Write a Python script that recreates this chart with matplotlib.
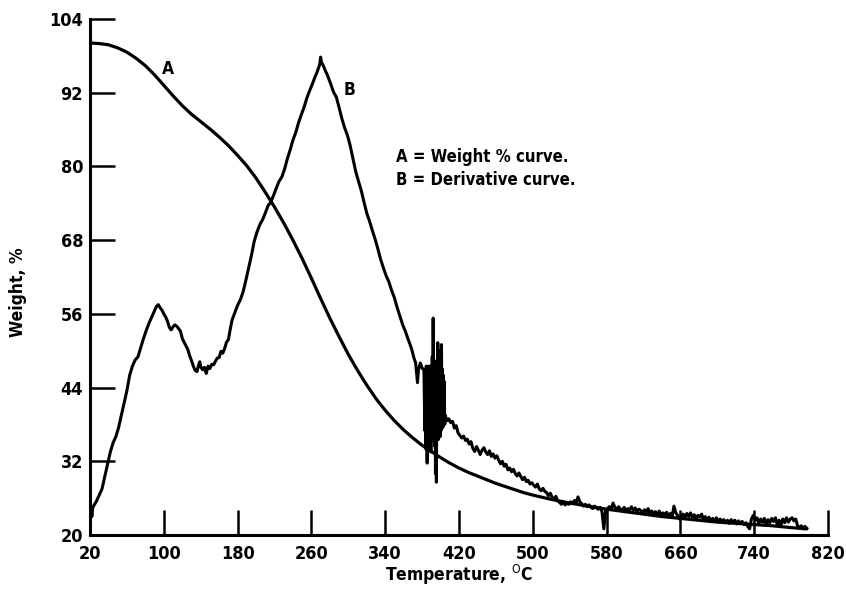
import matplotlib
matplotlib.use("Agg")
import matplotlib.pyplot as plt

plt.rcParams['font.family'] = ['DejaVu Sans']
plt.rcParams['font.stretch'] = 'condensed'

# curve A: weight % vs temperature
temp_a = [20, 30, 40, 50, 60, 70, 80, 90, 100, 110, 120, 130, 140, 150, 160, 170,
          180, 190, 200, 210, 220, 230, 240, 250, 260, 270, 280, 290, 300, 310,
          320, 330, 340, 350, 360, 370, 380, 390, 400, 410, 420, 430, 440, 450,
          460, 470, 480, 490, 500, 520, 540, 560, 580, 600, 620, 640, 660, 680,
          700, 720, 740, 760, 780, 797]
weight_a = [100.1, 100.0, 99.8, 99.3, 98.6, 97.6, 96.4, 94.9, 93.2, 91.5, 89.9, 88.5,
            87.3, 86.1, 84.8, 83.4, 81.8, 80.1, 78.1, 75.8, 73.4, 70.8, 68.0, 65.0,
            61.8, 58.5, 55.3, 52.3, 49.4, 46.8, 44.4, 42.2, 40.3, 38.6, 37.1, 35.8,
            34.6, 33.6, 32.6, 31.7, 30.9, 30.2, 29.6, 29.0, 28.4, 27.9, 27.4, 26.9,
            26.5, 25.8, 25.2, 24.7, 24.2, 23.8, 23.4, 23.0, 22.7, 22.4, 22.1, 21.9,
            21.7, 21.5, 21.2, 21.0]

# curve B: derivative curve
temp_b = [20, 21, 22, 23, 25, 27, 30, 33, 36, 39, 42, 45, 48, 51, 54, 57, 60, 63, 66,
          69, 72, 75, 78, 81, 84, 87, 90, 92, 94, 96, 98, 100, 102, 104, 106, 108,
          110, 112, 114, 116, 118, 120, 122, 124, 126, 128, 130, 132, 134, 136, 138,
          139, 140, 142, 144, 146, 148, 150, 152, 154, 156, 158, 160, 162, 164, 166,
          168, 170, 172, 174, 176, 178, 180, 183, 186, 189, 192, 195, 198, 201, 204,
          207, 210, 213, 216, 219, 222, 225, 228, 231, 234, 237, 240, 243, 246, 249,
          252, 255, 258, 261, 264, 266, 268, 269, 270, 271, 273, 275, 277, 279, 281,
          284, 287, 290, 293, 296, 299, 302, 305, 308, 311, 314, 317, 320, 323, 326,
          329, 332, 335, 338, 341, 344, 347, 350, 353, 356, 359, 362, 365, 367, 369,
          371, 373, 375, 376, 378, 380, 382,
          383, 383.5, 384, 384.5, 385, 385.5, 386, 386.5, 387, 387.5, 388, 388.5,
          389, 389.5, 390, 390.5, 391, 391.5, 392, 392.5, 393, 393.5, 394, 394.5,
          395, 395.5, 396, 396.5, 397, 397.5, 398, 398.5, 399, 399.5, 400, 400.5,
          401, 401.5, 402, 402.5, 403, 403.5, 404, 404.5, 405,
          407, 409, 411, 413, 415, 417, 419, 421, 423, 425, 427, 429, 431, 433, 435,
          437, 439, 441, 443, 445, 447, 449, 451, 453, 455, 457, 459, 461, 463, 465,
          467, 469, 471, 473, 475, 477, 479, 481, 483, 485, 487, 489, 491, 493, 495,
          497, 499, 501, 503, 505, 507, 509, 511, 513, 515, 517, 519, 521, 523, 525,
          527, 529, 531, 533, 535, 537, 539, 541, 543, 545, 547, 549, 551, 553, 555,
          557, 559, 561, 563, 565, 567, 569, 571, 573, 575, 577, 578, 579, 581, 583,
          585, 587, 589, 591, 593, 595, 597, 599, 601, 603, 605, 607, 609, 611, 613,
          615, 617, 619, 621, 623, 625, 627, 629, 631, 633, 635, 637, 639, 641, 643,
          645, 647, 649, 651, 653, 655, 657, 659, 661, 663, 665, 667, 669, 671, 673,
          675, 677, 679, 681, 683, 685, 687, 689, 691, 693, 695, 697, 699, 701, 703,
          705, 707, 709, 711, 713, 715, 717, 719, 721, 723, 725, 727, 729, 731, 733,
          735, 737, 739, 741, 743, 745, 747, 749, 751, 753, 755, 757, 759, 761, 763,
          765, 767, 769, 771, 773, 775, 777, 779, 781, 783, 785, 787, 789, 791, 793,
          795, 797]
deriv_b = [22.0, 24.5, 23.0, 24.5, 25.0, 25.5, 26.5, 27.5, 29.5, 31.5, 33.5, 35.0, 36.0,
           37.5, 39.5, 41.5, 43.5, 46.0, 47.5, 48.5, 49.0, 50.5, 52.0, 53.3, 54.5,
           55.5, 56.5, 57.2, 57.5, 57.0, 56.6, 56.0, 55.5, 54.8, 53.8, 53.4, 53.9,
           54.2, 54.0, 53.6, 53.2, 52.0, 51.4, 50.8, 50.2, 49.2, 48.4, 47.5, 46.8,
           46.6, 47.8, 48.2, 47.4, 46.9, 47.3, 46.3, 47.5, 47.1, 47.8, 47.7, 48.3,
           48.8, 48.9, 49.9, 49.6, 50.4, 51.4, 51.8, 53.5, 55.0, 55.8, 56.6, 57.4,
           58.3, 59.6, 61.5, 63.5, 65.5, 67.8, 69.3, 70.5, 71.3, 72.4, 73.6, 74.2,
           75.3, 76.5, 77.6, 78.3, 79.6, 81.3, 82.7, 84.3, 85.5, 87.1, 88.4, 89.6,
           91.1, 92.3, 93.4, 94.6, 95.3, 96.2, 96.6, 97.8, 96.9, 96.4, 95.6, 95.0,
           94.2, 93.4, 92.1, 91.3, 89.6, 87.8, 86.3, 85.1, 83.4, 81.3, 79.2, 77.6,
           76.1, 74.2, 72.4, 71.1, 69.6, 68.2, 66.6, 64.9, 63.5, 62.2, 61.2, 59.8,
           58.6, 57.0, 55.6, 54.2, 53.1, 51.8, 51.0, 50.1, 48.9, 48.0, 44.8, 46.8,
           48.0, 47.2, 46.8,
           37.0, 46.0, 34.0, 47.5, 40.0, 31.7, 46.5, 36.5, 47.5, 35.0, 46.0, 37.5,
           47.5, 33.5, 46.5, 36.5, 49.0, 35.5, 55.3, 38.0, 48.5, 34.5, 47.0, 30.0,
           45.0, 28.6, 48.0, 36.5, 51.3, 35.5, 47.5, 37.5, 50.0, 36.0, 47.0, 37.0,
           51.0, 39.0, 47.0, 37.5, 46.0, 39.0, 45.0, 38.0, 39.5,
           38.6, 38.9, 38.3, 38.5, 37.4, 37.8, 36.6, 36.2, 35.8, 36.1, 35.4, 35.6,
           34.8, 35.2, 34.1, 33.6, 34.4, 33.8, 33.1, 33.8, 34.2, 33.5, 33.1, 33.7,
           32.8, 33.2, 32.5, 32.9, 32.2, 31.6, 32.0, 31.2, 31.5, 30.6, 30.9, 30.3,
           30.7, 30.0, 29.6, 30.1, 29.5, 29.0, 29.4, 28.7, 28.9, 28.3, 28.5, 28.1,
           27.8, 28.3, 27.5, 27.2, 27.6, 27.1, 26.9, 26.4, 26.8, 26.1, 25.9, 26.3,
           25.6, 25.3, 25.0, 25.4, 24.9, 25.2, 25.0, 25.4, 25.1, 25.6, 25.3, 26.2,
           25.4, 25.1, 24.7, 25.0, 24.6, 24.9, 24.5, 24.3, 24.7, 24.4, 24.2, 24.5,
           23.8, 21.0, 22.5, 24.0, 24.3, 24.6, 24.2, 25.2, 24.5, 24.1, 24.6, 24.2,
           24.0, 24.5, 23.9, 24.3, 24.1, 24.6, 24.0, 24.4, 23.8, 24.2, 24.0, 23.6,
           24.1, 23.7, 24.3, 23.5, 23.9, 23.4, 23.8, 23.3, 23.9, 23.2, 23.6, 23.3,
           23.7, 23.1, 23.5, 23.0, 24.7, 23.6, 23.2, 22.6, 23.1, 23.4, 22.9, 23.5,
           23.0, 23.6, 22.8, 23.3, 22.6, 23.2, 22.9, 23.4, 22.5, 23.0, 22.4, 22.9,
           22.2, 22.7, 22.3, 22.8, 22.1, 22.6, 22.2, 22.5, 22.0, 22.4, 21.9, 22.5,
           22.1, 22.4, 21.8, 22.3, 21.9, 22.2, 21.7, 22.0, 21.4, 21.0, 22.6, 23.2,
           22.4, 22.8, 21.9, 22.6, 22.1, 22.7, 21.6, 22.5, 22.0, 22.7, 22.2, 22.8,
           21.7, 22.4, 21.6, 22.6, 22.0, 22.8, 22.1, 22.6, 22.8, 22.3, 22.6, 21.5,
           21.2, 21.5, 21.0, 21.4, 21.1]

x_ticks = [20, 100, 180, 260, 340, 420, 500, 580, 660, 740, 820]
y_ticks = [20, 32, 44, 56, 68, 80, 92, 104]

fig = plt.figure(figsize=(8.46, 5.91), dpi=100)
ax = fig.add_axes([90 / 846, 56 / 591, 738 / 846, 516 / 591])

ax.plot(temp_a, weight_a, color='black', lw=2.3, solid_joinstyle='round',
        solid_capstyle='round')
ax.plot(temp_b, deriv_b, color='black', lw=2.2, solid_joinstyle='round')

ax.set_xlim(20, 820)
ax.set_ylim(20, 104)
ax.set_xticks(x_ticks)
ax.set_yticks(y_ticks)
ax.spines['top'].set_visible(False)
ax.spines['right'].set_visible(False)
ax.spines['left'].set_linewidth(2.2)
ax.spines['bottom'].set_linewidth(2.2)
ax.tick_params(direction='in', length=18, width=1.8, labelsize=13, pad=5)
ax.tick_params(axis='x', pad=7)
for lbl in ax.get_xticklabels() + ax.get_yticklabels():
    lbl.set_fontweight('bold')

ax.set_xlabel('Temperature, $^{\\mathrm{O}}$C', fontsize=12.5, fontweight='bold', labelpad=0)
ax.set_ylabel('Weight, %', fontsize=12.5, fontweight='bold')
ax.yaxis.set_label_coords(-0.085, 0.47)

ax.text(104, 95.9, 'A', fontsize=12.5, fontweight='bold', ha='center', va='center')
ax.text(301, 92.5, 'B', fontsize=12.5, fontweight='bold', ha='center', va='center')
ax.text(352, 81.6, 'A = Weight % curve.', fontsize=12, fontweight='bold', va='center')
ax.text(352, 77.8, 'B = Derivative curve.', fontsize=12, fontweight='bold', va='center')

fig.savefig('out.png', dpi=100)
